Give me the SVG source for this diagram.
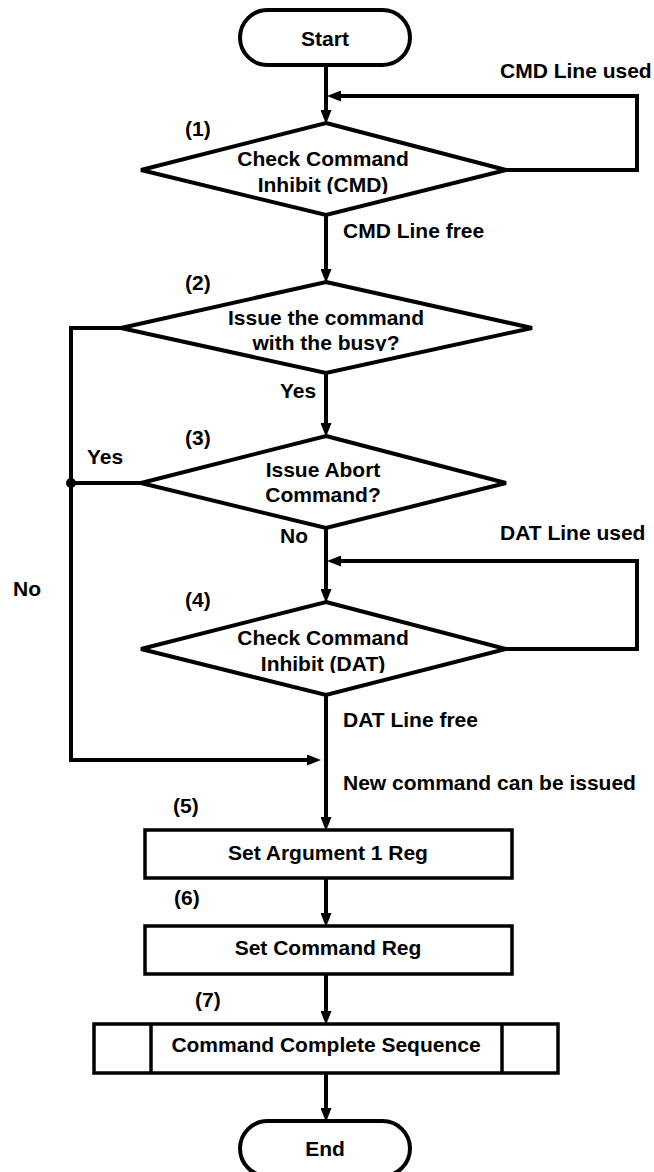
<svg xmlns="http://www.w3.org/2000/svg" width="654" height="1172" viewBox="0 0 654 1172">
<style>
text{font-family:"Liberation Sans",Arial,sans-serif;font-weight:bold;font-size:21px;fill:#000}
.c{text-anchor:middle}
.shape{fill:#fff;stroke:#000;stroke-width:4;stroke-linejoin:miter}
.box{fill:#fff;stroke:#000;stroke-width:3.5}
.ln{fill:none;stroke:#000;stroke-width:4}
.arr{fill:none;stroke:#000;stroke-width:4;marker-end:url(#ah)}
</style>
<defs>
<marker id="ah" markerUnits="userSpaceOnUse" markerWidth="14" markerHeight="11" refX="7" refY="5.5" orient="auto" viewBox="0 0 14 11">
<path d="M0,0 L14,5.5 L0,11 z" fill="#000"/>
</marker>
<clipPath id="clip1"><rect x="141" y="140" width="365" height="54"/></clipPath>
<clipPath id="clip2"><rect x="121" y="300" width="411" height="51"/></clipPath>
<clipPath id="clip4"><rect x="141" y="620" width="365" height="53"/></clipPath>
</defs>
<g id="connectors">
<line class="arr" x1="326" y1="65" x2="326" y2="117"/>
<polyline class="arr" points="506,170 637,170 637,96 334,96"/>
<line class="arr" x1="326" y1="215" x2="326" y2="276"/>
<polyline class="arr" points="121,328 71,328 71,760 314,760"/>
<line class="arr" x1="326" y1="373" x2="326" y2="430"/>
<line class="ln" x1="141" y1="483" x2="71" y2="483"/>
<circle cx="71" cy="483" r="5" fill="#000"/>
<line class="arr" x1="326" y1="528" x2="326" y2="596"/>
<polyline class="arr" points="506,649 637,649 637,561 334,561"/>
<line class="arr" x1="326" y1="695" x2="326" y2="824"/>
<line class="arr" x1="326" y1="878" x2="326" y2="920"/>
<line class="arr" x1="326" y1="974" x2="326" y2="1018"/>
<line class="arr" x1="326" y1="1073" x2="326" y2="1115"/>
</g>
<g id="labels">
<text x="500" y="78">CMD Line used</text>
<text x="185" y="136">(1)</text>
<text x="343" y="238">CMD Line free</text>
<text x="185" y="290">(2)</text>
<text x="280" y="398">Yes</text>
<text x="185" y="445">(3)</text>
<text x="87" y="464">Yes</text>
<text x="280" y="543">No</text>
<text x="500" y="540">DAT Line used</text>
<text x="13" y="596">No</text>
<text x="185" y="607">(4)</text>
<text x="343" y="727">DAT Line free</text>
<text x="343" y="790">New command can be issued</text>
<text x="173" y="813">(5)</text>
<text x="174" y="905">(6)</text>
<text x="195" y="1007">(7)</text>
</g>
<g id="start">
<rect class="shape" x="240" y="10" width="170" height="55" rx="27.5"/>
<text class="c" x="325" y="46">Start</text>
</g>
<g id="check-cmd">
<polygon class="shape" points="326,123 506,170 326,215 141,170"/>
<g clip-path="url(#clip1)">
<text class="c" x="323" y="166">Check Command</text>
<text class="c" x="323" y="192">Inhibit (CMD)</text>
</g>
</g>
<g id="issue-busy">
<polygon class="shape" points="326,282 532,328 326,373 121,328"/>
<g clip-path="url(#clip2)">
<text class="c" x="326" y="325">Issue the command</text>
<text class="c" x="326" y="350">with the busy?</text>
</g>
</g>
<g id="issue-abort">
<polygon class="shape" points="326,436 506,483 326,528 141,483"/>
<text class="c" x="323" y="477">Issue Abort</text>
<text class="c" x="323" y="502">Command?</text>
</g>
<g id="check-dat">
<polygon class="shape" points="326,602 506,649 326,695 141,649"/>
<g clip-path="url(#clip4)">
<text class="c" x="323" y="645">Check Command</text>
<text class="c" x="323" y="671">Inhibit (DAT)</text>
</g>
</g>
<g id="set-arg">
<rect class="box" x="145" y="830" width="367" height="48"/>
<text class="c" x="328" y="860">Set Argument 1 Reg</text>
</g>
<g id="set-cmd">
<rect class="box" x="145" y="926" width="367" height="48"/>
<text class="c" x="328" y="955">Set Command Reg</text>
</g>
<g id="complete">
<rect class="box" x="94" y="1024" width="464" height="49"/>
<line class="box" x1="151" y1="1024" x2="151" y2="1073"/>
<line class="box" x1="502" y1="1024" x2="502" y2="1073"/>
<text class="c" x="326" y="1052">Command Complete Sequence</text>
</g>
<g id="end">
<rect class="shape" x="240" y="1121" width="170" height="55" rx="27.5"/>
<text class="c" x="325" y="1156">End</text>
</g>
</svg>
